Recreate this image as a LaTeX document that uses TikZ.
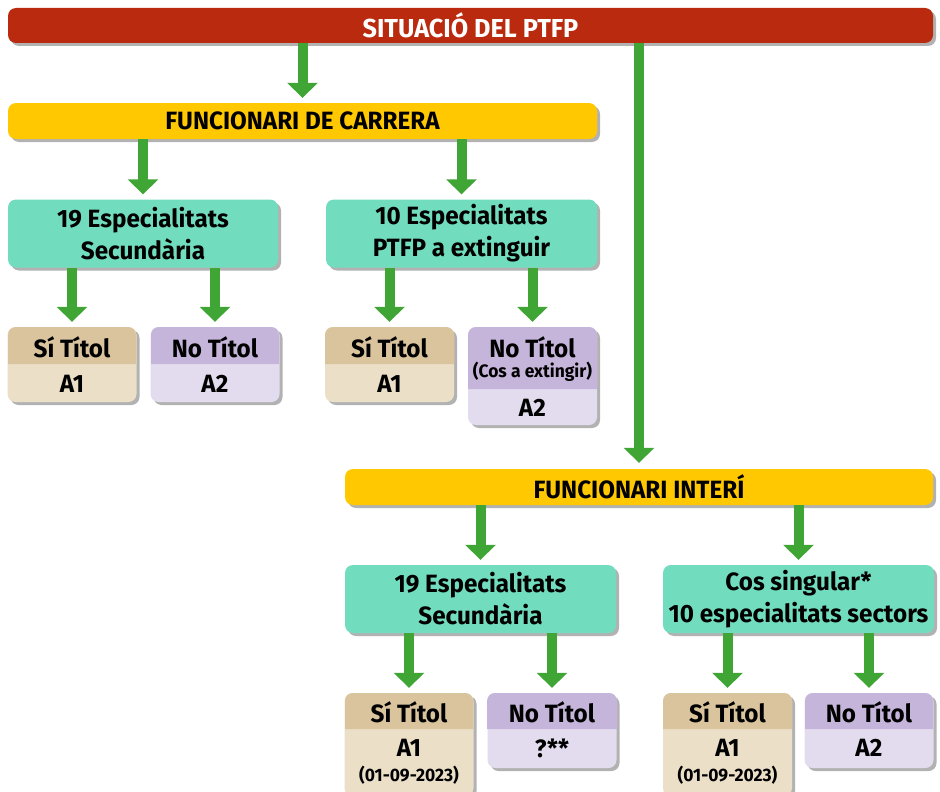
\documentclass[tikz,border=0pt]{standalone}
\usepackage{fontspec}
\setmainfont{Fira Sans}[FakeStretch=0.97]
\usetikzlibrary{arrows.meta,shadows}
\definecolor{redbar}{RGB}{186,42,14}
\definecolor{yelbar}{RGB}{255,200,0}
\definecolor{tealbx}{RGB}{114,221,190}
\definecolor{garr}{RGB}{63,165,53}
\definecolor{sihead}{RGB}{217,196,158}
\definecolor{sibody}{RGB}{235,223,200}
\definecolor{nohead}{RGB}{198,181,218}
\definecolor{nobody}{RGB}{227,220,238}
\tikzset{
  shad/.style={drop shadow={shadow xshift=3pt,shadow yshift=-3pt,opacity=0.3,fill=black}},
  bigtxt/.style={font=\fontsize{25}{32}\selectfont\bfseries},
  smalltxt/.style={font=\fontsize{18}{20}\selectfont\bfseries},
  rbar/.style={shad,fill=redbar,rounded corners=8pt,minimum width=925pt,minimum height=35pt,text=white,font=\fontsize{26}{32}\selectfont\bfseries,inner sep=0pt},
  ybar/.style={shad,fill=yelbar,rounded corners=8pt,minimum height=36pt,bigtxt,inner sep=0pt},
  tbox/.style={shad,fill=tealbx,rounded corners=8pt,minimum width=271pt,minimum height=68pt,bigtxt,align=center,inner sep=0pt},
  sbox/.style={shad,fill=sibody,rounded corners=8pt,minimum width=129pt,inner sep=0pt},
  nbox/.style={shad,fill=nobody,rounded corners=8pt,minimum width=129pt,inner sep=0pt},
  lbl/.style={bigtxt,inner sep=0pt},
  garrow/.style={draw=garr,line width=10pt,-{Triangle[width=30pt,length=15pt]},fill=garr},
}
\begin{document}
\begin{tikzpicture}[x=1pt,y=-1pt]
\clip (0,0) rectangle (940,792);
% bars
\node[rbar] (sit) at (470.5,25.5) {SITUACIÓ DEL PTFP};
\node[ybar,minimum width=589pt] (fc) at (302.5,121) {FUNCIONARI DE CARRERA};
\node[ybar,minimum width=588pt] (fi) at (639,487) {FUNCIONARI INTERÍ};
% teal boxes
\node[tbox,minimum width=270pt] (t1) at (143,233.5) {19 Especialitats\\Secundària};
\node[tbox] (t2) at (461.5,233.5) {10 Especialitats\\PTFP a extinguir};
\node[tbox] (t3) at (480.5,599) {19 Especialitats\\Secundària};
\node[tbox] (t4) at (798.5,599) {Cos singular*\\10 especialitats sectors};
% small boxes upper
\node[sbox,minimum height=75pt] (s1) at (72,364.5) {};
\fill[sihead] (8,364) {[rounded corners=8pt] -- (8,327) -- (136,327)} -- (136,364) -- cycle;
\node[lbl] (s1a) at (72,347) {Sí Títol};
\node[lbl] (s1b) at (72,384) {A1};
\node[nbox,minimum height=75pt] (n1) at (215,364.5) {};
\fill[nohead] (151,364) {[rounded corners=8pt] -- (151,327) -- (279,327)} -- (279,364) -- cycle;
\node[lbl] (n1a) at (215,347) {No Títol};
\node[lbl] (n1b) at (215,384) {A2};
\node[sbox,minimum height=75pt] (s2) at (389.5,364.5) {};
\fill[sihead] (325,364) {[rounded corners=8pt] -- (325,327) -- (454,327)} -- (454,364) -- cycle;
\node[lbl] (s2a) at (389.5,347) {Sí Títol};
\node[lbl] (s2b) at (389.5,384) {A1};
\node[nbox,minimum height=98pt] (n2) at (532.5,376) {};
\fill[nohead] (468,389) {[rounded corners=8pt] -- (468,327) -- (597,327)} -- (597,389) -- cycle;
\node[lbl] (n2a) at (532.5,347) {No Títol};
\node[smalltxt,inner sep=0pt] (n2c) at (532.5,372) {(Cos a extingir)};
\node[lbl] (n2b) at (532.5,408) {A2};
% small boxes lower
\node[sbox,minimum height=103pt] (s3) at (409,744.5) {};
\fill[sihead] (345,729) {[rounded corners=8pt] -- (345,693) -- (473,693)} -- (473,729) -- cycle;
\node[lbl] (s3a) at (409,712) {Sí Títol};
\node[lbl] (s3b) at (409,748) {A1};
\node[smalltxt,inner sep=0pt] (s3c) at (409,775) {(01-09-2023)};
\node[nbox,minimum height=75pt] (n3) at (552,730.5) {};
\fill[nohead] (487,729) {[rounded corners=8pt] -- (487,693) -- (617,693)} -- (617,729) -- cycle;
\node[lbl] (n3a) at (552,712) {No Títol};
\node[lbl] (n3b) at (552,748) {?**};
\node[sbox,minimum height=103pt] (s4) at (727.5,744.5) {};
\fill[sihead] (663,729) {[rounded corners=8pt] -- (663,693) -- (792,693)} -- (792,729) -- cycle;
\node[lbl] (s4a) at (727.5,712) {Sí Títol};
\node[lbl] (s4b) at (727.5,748) {A1};
\node[smalltxt,inner sep=0pt] (s4c) at (727.5,775) {(01-09-2023)};
\node[nbox,minimum height=75pt] (n4) at (869,730.5) {};
\fill[nohead] (805,729) {[rounded corners=8pt] -- (805,693) -- (933,693)} -- (933,729) -- cycle;
\node[lbl] (n4a) at (869,712) {No Títol};
\node[lbl] (n4b) at (869,748) {A2};
% arrows
\draw[garrow,shorten >=5pt] (sit.south -| fc.north) -- (fc.north);
\draw[garrow,shorten >=6pt] (sit.south -| fi.north) -- (fi.north);
\draw[garrow,shorten >=5pt] (fc.south -| t1.north) -- (t1.north);
\draw[garrow,shorten >=5pt] (fc.south -| t2.north) -- (t2.north);
\draw[garrow,shorten >=5pt] (t1.south -| s1.north) -- (s1.north);
\draw[garrow,shorten >=5pt] (t1.south -| n1.north) -- (n1.north);
\draw[garrow,shorten >=5pt] (t2.south -| s2.north) -- (s2.north);
\draw[garrow,shorten >=5pt] (t2.south -| n2.north) -- (n2.north);
\draw[garrow,shorten >=5pt] (fi.south -| t3.north) -- (t3.north);
\draw[garrow,shorten >=5pt] (fi.south -| t4.north) -- (t4.north);
\draw[garrow,shorten >=5pt] (t3.south -| s3.north) -- (s3.north);
\draw[garrow,shorten >=5pt] (t3.south -| n3.north) -- (n3.north);
\draw[garrow,shorten >=5pt] (t4.south -| s4.north) -- (s4.north);
\draw[garrow,shorten >=5pt] (t4.south -| n4.north) -- (n4.north);
\end{tikzpicture}
\end{document}
